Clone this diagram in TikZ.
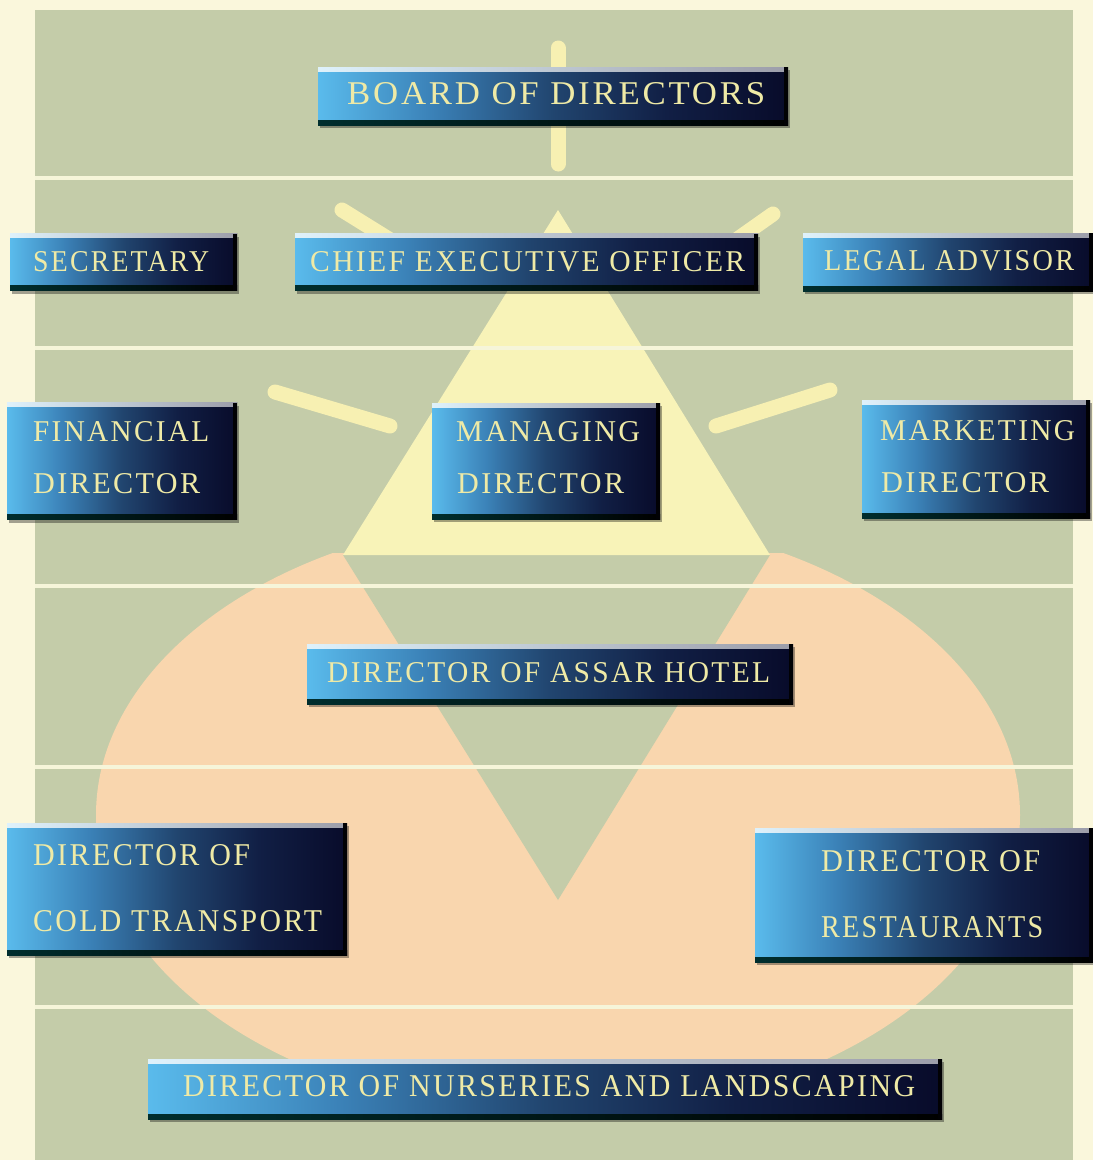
\documentclass[tikz,border=0pt]{standalone}
\usepackage{fontspec}
\usepackage{graphicx}
\newfontfamily\boxfont[LetterSpace=8]{Liberation Serif}
\usetikzlibrary{shadows}
\definecolor{bgc}{HTML}{FAF7DC}
\definecolor{panelc}{HTML}{C4CCA9}
\definecolor{linec}{HTML}{F6F5D9}
\definecolor{salmonc}{HTML}{F9D6AE}
\definecolor{yelc}{HTML}{F8F3B8}
\definecolor{rayc}{HTML}{F7F0B2}
\definecolor{txtc}{HTML}{EFEAA6}
\definecolor{bxa}{HTML}{5ABBEC}
\definecolor{bxb}{HTML}{3B82B8}
\definecolor{bxc}{HTML}{21456F}
\definecolor{bxd}{HTML}{111F45}
\definecolor{bxe}{HTML}{080B2A}
\pgfdeclarehorizontalshading{boxshade}{100bp}{color(0bp)=(bxa); color(25bp)=(bxa); color(37bp)=(bxb); color(50bp)=(bxc); color(62bp)=(bxd); color(75bp)=(bxe); color(100bp)=(bxe)}
\newcommand\lbltext[3]{\resizebox{#1pt}{#2pt}{\boxfont #3}}
\tikzset{
  obox/.style={shade, shading=boxshade, inner sep=0pt, draw=none,
    drop shadow={shadow xshift=2pt, shadow yshift=-3pt, opacity=.35, fill=black},
    path picture={
      \shade[left color=white!80!bxa, right color=bxe!40!white]
        ([yshift=-4pt]path picture bounding box.north west) rectangle (path picture bounding box.north east);
      \shade[left color=black!40!teal!60!black, right color=black]
        (path picture bounding box.south west) rectangle ([yshift=5pt]path picture bounding box.south east);
      \fill[black!90!bxe]
        ([xshift=-4pt]path picture bounding box.south east) rectangle (path picture bounding box.north east);
    }},
  lbl/.style={inner sep=0pt, anchor=south west, text=txtc},
  ray/.style={rayc, line width=15pt, line cap=round},
  band/.style={linec, line width=3.5pt}
}
\begin{document}
\begin{tikzpicture}[x=1pt, y=-1pt]
\useasboundingbox (0,0) rectangle (1093,1160);
\fill[bgc] (0,0) rectangle (1093,1160);
\fill[panelc] (35,10) rectangle (1073,1160);
% salmon shape
\begin{scope}
  \clip (0,553) rectangle (1093,1160);
  \fill[salmonc] (558,815) ellipse [x radius=462, y radius=300];
\end{scope}
\fill[panelc] (343,555) -- (770,555) -- (558,900) -- cycle;
\fill[yelc] (558,210) -- (343,555) -- (770,555) -- cycle;
% rays
\draw[ray] (558,48) -- (558,164);
\draw[ray] (342,210) -- (400,246);
\draw[ray] (773,214) -- (722,250);
\draw[ray] (275,392) -- (390,426);
\draw[ray] (716,426) -- (830,390);
% bands
\foreach \yy in {178,348,586,767,1007} \draw[band] (35,\yy) -- (1073,\yy);
% boxes
\node[obox, minimum width=470pt, minimum height=58pt] (board) at (553,96) {};
\node[obox, minimum width=227pt, minimum height=57pt] (secr) at (123.5,262) {};
\node[obox, minimum width=463pt, minimum height=57pt] (ceo) at (526.5,262) {};
\node[obox, minimum width=290pt, minimum height=58pt] (legal) at (948,262) {};
\node[obox, minimum width=230pt, minimum height=117pt] (fin) at (122,461) {};
\node[obox, minimum width=228pt, minimum height=116pt] (mng) at (546,461) {};
\node[obox, minimum width=228pt, minimum height=118pt] (mkt) at (976,459) {};
\node[obox, minimum width=486pt, minimum height=60pt] (assar) at (550,674) {};
\node[obox, minimum width=340pt, minimum height=132pt] (cold) at (177,889) {};
\node[obox, minimum width=338pt, minimum height=134pt] (rest) at (924,895) {};
\node[obox, minimum width=794pt, minimum height=60pt] (nurs) at (545,1089) {};
% texts
\node[lbl] (tboard) at (347,105) {\lbltext{418}{22}{BOARD OF DIRECTORS}};
\node[lbl] (tsecr) at (33,272) {\lbltext{176}{20}{SECRETARY}};
\node[lbl] (tceo) at (310,272) {\lbltext{435}{20}{CHIEF EXECUTIVE OFFICER}};
\node[lbl] (tlegal) at (824,271) {\lbltext{250}{20}{LEGAL ADVISOR}};
\node[lbl] (tfin1) at (33,442) {\lbltext{176}{20}{FINANCIAL}};
\node[lbl] (tfin2) at (33,494) {\lbltext{167}{20}{DIRECTOR}};
\node[lbl] (tmng1) at (456,442) {\lbltext{184}{20}{MANAGING}};
\node[lbl] (tmng2) at (457,494) {\lbltext{167}{20}{DIRECTOR}};
\node[lbl] (tmkt1) at (880,441) {\lbltext{195}{20}{MARKETING}};
\node[lbl] (tmkt2) at (881,493) {\lbltext{168}{20}{DIRECTOR}};
\node[lbl] (tassar) at (327,683) {\lbltext{443}{20}{DIRECTOR OF ASSAR HOTEL}};
\node[lbl] (tcold1) at (33,866) {\lbltext{217}{21}{DIRECTOR OF}};
\node[lbl] (tcold2) at (33,932) {\lbltext{289}{21}{COLD TRANSPORT}};
\node[lbl] (trest1) at (821,872) {\lbltext{219}{21}{DIRECTOR OF}};
\node[lbl] (trest2) at (821,938) {\lbltext{222}{21}{RESTAURANTS}};
\node[lbl] (tnurs) at (183,1097) {\lbltext{732}{21}{DIRECTOR OF NURSERIES AND LANDSCAPING}};
\end{tikzpicture}
\end{document}
